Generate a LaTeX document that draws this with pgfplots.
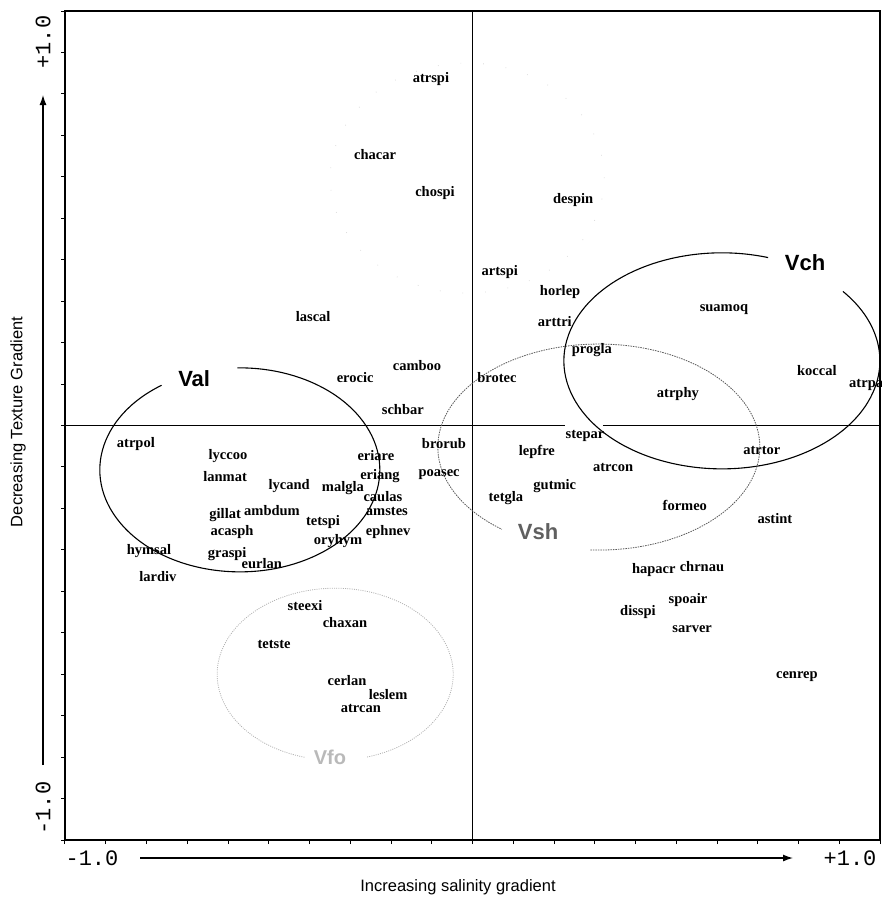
\documentclass[border=0pt]{standalone}
\usepackage{fontspec}
\setmainfont{Liberation Serif}
\newfontfamily\sansf{Liberation Sans}
\newfontfamily\monof{Liberation Mono}
\usepackage{pgfplots}
\pgfplotsset{compat=1.18}
\usetikzlibrary{arrows.meta}

% species scores on the two ordination axes
\pgfplotstableread{
x      y      name
-0.102  0.834 atrspi
-0.239  0.650 chacar
-0.092  0.559 chospi
 0.247  0.542 despin
 0.067  0.370 artspi
 0.215  0.322 horlep
 0.202  0.245 arttri
-0.391  0.257 lascal
 0.293  0.182 progla
 0.617  0.283 suamoq
 0.845  0.127 koccal
 0.966  0.098 atrpa
 0.504  0.076 atrphy
-0.136  0.141 camboo
 0.060  0.110 brotec
-0.171  0.033 schbar
-0.070 -0.049 brorub
-0.082 -0.115 poasec
 0.276 -0.025 stepar
 0.158 -0.066 lepfre
 0.345 -0.103 atrcon
 0.202 -0.148 gutmic
 0.082 -0.177 tetgla
 0.521 -0.197 formeo
 0.710 -0.062 atrtor
 0.742 -0.228 astint
-0.288  0.112 erocic
-0.826 -0.047 atrpol
-0.600 -0.074 lyccoo
-0.607 -0.129 lanmat
-0.450 -0.148 lycand
-0.318 -0.151 malgla
-0.237 -0.078 eriare
-0.227 -0.124 eriang
-0.220 -0.177 caulas
-0.210 -0.211 amstes
-0.207 -0.257 ephnev
-0.607 -0.218 gillat
-0.492 -0.209 ambdum
-0.590 -0.257 acasph
-0.367 -0.233 tetspi
-0.330 -0.281 oryhym
-0.794 -0.305 hymsal
-0.602 -0.312 graspi
-0.517 -0.337 eurlan
-0.772 -0.368 lardiv
-0.411 -0.440 steexi
-0.313 -0.481 chaxan
-0.487 -0.530 tetste
-0.308 -0.621 cerlan
-0.207 -0.653 leslem
-0.274 -0.686 atrcan
 0.445 -0.351 hapacr
 0.563 -0.346 chrnau
 0.529 -0.423 spoair
 0.406 -0.452 disspi
 0.539 -0.493 sarver
 0.796 -0.602 cenrep
}\species

\begin{document}
\begin{tikzpicture}
\useasboundingbox (0pt,0pt) rectangle (882pt,-899pt);
\begin{axis}[
  at={(65pt,-840pt)}, anchor=south west,
  scale only axis, width=815pt, height=829pt,
  xmin=-1, xmax=1, ymin=-1, ymax=1,
  xtick distance=0.1, ytick distance=0.1,
  xticklabels={}, yticklabels={},
  tick align=outside, xtick pos=bottom, ytick pos=left,
  major tick length=4pt,
  tick style={black, line width=1pt},
  axis line style={line width=1.4pt},
  clip=false
]
  % centre lines
  \draw[line width=1.1pt] (axis cs:0,-1) -- (axis cs:0,1);
  \draw[line width=1.1pt] (axis cs:-1,0) -- (axis cs:0.227,0);
  \draw[line width=1.1pt] (axis cs:0.320,0) -- (axis cs:1,0);

  % group ellipses
  \draw[gray!30, line width=0.8pt, dash pattern=on 0.7pt off 22pt]
    (axis cs:-0.013,0.597) ellipse[x radius=137pt, y radius=115pt];
  \draw[black, line width=1.1pt]
    (axis cs:-0.571,-0.107) ++(124:140pt and 102pt)
    arc[start angle=124, end angle=451, x radius=140pt, y radius=102pt];
  \draw[black, line width=1.1pt]
    (axis cs:0.612,0.156) ++(73:158pt and 108pt)
    arc[start angle=73, end angle=400, x radius=158pt, y radius=108pt];
  \draw[gray!70!black, line width=0.8pt, dash pattern=on 1.5pt off 1pt]
    (axis cs:0.310,-0.052) ++(267:161pt and 103pt)
    arc[start angle=267, end angle=593, x radius=161pt, y radius=103pt];
  \draw[gray!60, line width=0.8pt, dash pattern=on 1pt off 1.2pt]
    (axis cs:-0.337,-0.600) ++(285.7:118pt and 86pt)
    arc[start angle=285.7, end angle=615.3, x radius=118pt, y radius=86pt];

  \addplot[draw=none, mark=none, nodes near coords, point meta=explicit symbolic,
    every node near coord/.append style={anchor=center, inner sep=0pt,
      text height=9pt, text depth=3pt,
      font=\fontsize{14.5}{15}\selectfont\bfseries}]
    table[x=x, y=y, meta=name] {\species};

  % group names
  \node[font=\sansf\fontsize{22}{24}\selectfont\bfseries] at (axis cs:-0.683,0.112) {Val};
  \node[font=\sansf\fontsize{22}{24}\selectfont\bfseries] at (axis cs:0.816,0.394) {Vch};
  \node[font=\sansf\fontsize{22}{24}\selectfont\bfseries, gray!75!black] at (axis cs:0.161,-0.257) {Vsh};
  \node[font=\sansf\fontsize{20}{22}\selectfont\bfseries, gray!55] at (axis cs:-0.350,-0.800) {Vfo};
\end{axis}

% axis end labels and arrows
\node[font=\monof\fontsize{22}{23}\selectfont] at (92pt,-858pt) {-1.0};
\node[font=\monof\fontsize{22}{23}\selectfont] at (850pt,-858pt) {+1.0};
\node[font=\monof\fontsize{22}{23}\selectfont, rotate=90] at (43pt,-42pt) {+1.0};
\node[font=\monof\fontsize{22}{23}\selectfont, rotate=90] at (43pt,-808pt) {-1.0};
\draw[line width=1.3pt, -{Latex[length=10pt,width=7pt]}] (140pt,-858pt) -- (793pt,-858pt);
\draw[line width=1.3pt, -{Latex[length=10pt,width=7pt]}] (43pt,-765pt) -- (43pt,-95pt);

\node[font=\sansf\fontsize{16.5}{18}\selectfont] at (458pt,-887pt) {Increasing salinity gradient};
\node[font=\sansf\fontsize{16.5}{18}\selectfont, rotate=90] at (18pt,-422pt) {Decreasing Texture Gradient};
\end{tikzpicture}
\end{document}
